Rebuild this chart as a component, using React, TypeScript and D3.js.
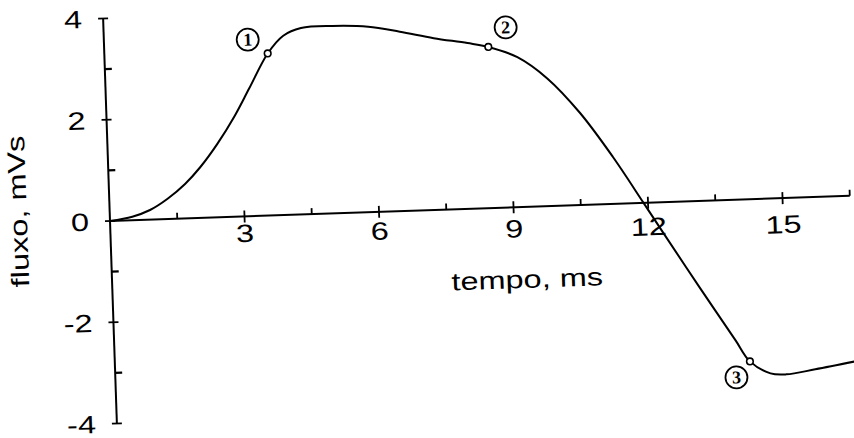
import React from "react";
import * as d3 from "d3";

// Flux curve samples: time (ms) and flux (mV·s)
const timeMs = [0, 0.5, 0.9, 1.3, 1.7, 2.05, 2.45, 2.85, 3.2, 3.64, 4.0, 4.4, 5.1, 5.9, 6.6, 7.35, 8.1, 8.56, 9.2, 9.85, 10.55, 11.25, 11.9, 12.3, 12.8, 13.4, 13.85, 14.15, 14.6, 14.95, 15.6, 16.5];
const fluxMVs = [0, 0.07, 0.19, 0.4, 0.68, 1.0, 1.45, 1.98, 2.52, 3.2, 3.54, 3.68, 3.7, 3.66, 3.54, 3.39, 3.27, 3.18, 2.96, 2.52, 1.82, 0.93, 0, -0.58, -1.3, -2.15, -2.78, -3.2, -3.45, -3.48, -3.4, -3.27];

// Numbered points on the curve
const markerTime = [3.64, 8.56, 14.15];
const markerFlux = [3.2, 3.18, -3.2];
const markerLabels = ["1", "2", "3"];

// Axis ticks
const xMajorTicks = [3, 6, 9, 12, 15];
const xMinorTicks = [1.5, 4.5, 7.5, 10.5, 13.5, 16.5];
const yMajorTicks = [-4, -2, 0, 2, 4];
const yMinorTicks = [-3, -1, 1, 3];

const W = 854;
const H = 438;
const origin = { x: 110, y: 221 };
const tilt = -1.95;
const font = "'Liberation Sans', Arial, Helvetica, sans-serif";
const stretch = 1.3;

export default function App() {
  const x = d3.scaleLinear().domain([0, 16.5]).range([0, 740.2]);
  const y = d3.scaleLinear().domain([-4, 4]).range([202.6, -202.6]);

  const pts: [number, number][] = timeMs.map((t, i) => [t, fluxMVs[i]]);
  const line = d3
    .line<[number, number]>()
    .x((d) => x(d[0]))
    .y((d) => y(d[1]))
    .curve(d3.curveCatmullRom.alpha(0.5));

  // circled-number offsets from their points
  const labelDx = [-19.5, 18, -14];
  const labelDy = [-14.5, -19, 15.5];

  return (
    <svg
      width={W}
      height={H}
      style={{ position: "absolute", left: 0, top: 0, background: "#fff" }}
    >
      <g transform={`translate(${origin.x},${origin.y}) rotate(${tilt})`}>
        {/* axes */}
        <line x1={x(0)} x2={x(16.5)} y1={y(0)} y2={y(0)} stroke="#000" strokeWidth={2} />
        <line x1={x(0)} x2={x(0)} y1={y(-4)} y2={y(4)} stroke="#000" strokeWidth={2} />

        {xMajorTicks.map((t) => (
          <g key={`xm${t}`}>
            <line x1={x(t)} x2={x(t)} y1={y(0) - 6} y2={y(0) + 6} stroke="#000" strokeWidth={1.8} />
            <text
              transform={`translate(${x(t)},${y(0) + 23.3 + 0.0173 * x(t)}) scale(${stretch},1)`}
              textAnchor="middle"
              fontFamily={font}
              fontSize={25}
              fill="#000"
            >
              {t}
            </text>
          </g>
        ))}
        {xMinorTicks.map((t) => (
          <line key={`xn${t}`} x1={x(t)} x2={x(t)} y1={y(0) - 6} y2={y(0)} stroke="#000" strokeWidth={1.8} />
        ))}

        {yMajorTicks.map((v) => (
          <g key={`ym${v}`}>
            <line x1={-5} x2={5} y1={y(v)} y2={y(v)} stroke="#000" strokeWidth={1.8} />
            <text
              transform={`translate(-21,${y(v) + 9}) scale(${stretch},1)`}
              textAnchor="end"
              fontFamily={font}
              fontSize={25}
              fill="#000"
            >
              {v}
            </text>
          </g>
        ))}
        {yMinorTicks.map((v) => (
          <line key={`yn${v}`} x1={0} x2={7} y1={y(v)} y2={y(v)} stroke="#000" strokeWidth={2.2} />
        ))}

        {/* axis titles */}
        <text
          transform={`translate(${x(9.25)},${y(0) + 81}) scale(${stretch},1)`}
          textAnchor="middle"
          fontFamily={font}
          fontSize={25}
          fill="#000"
        >
          tempo, ms
        </text>
        <text
          transform={`translate(-83,${y(0.25)}) rotate(-90) scale(${stretch},1)`}
          textAnchor="middle"
          fontFamily={font}
          fontSize={25}
          fill="#000"
        >
          fluxo, mVs
        </text>

        {/* flux curve */}
        <path d={line(pts) ?? ""} fill="none" stroke="#000" strokeWidth={2} />

        {/* numbered points */}
        {markerTime.map((t, i) => (
          <g key={`mk${i}`}>
            <circle cx={x(t)} cy={y(markerFlux[i])} r={3.3} fill="#fff" stroke="#000" strokeWidth={1.6} />
            <circle
              cx={x(t) + labelDx[i]}
              cy={y(markerFlux[i]) + labelDy[i]}
              r={11}
              fill="#fff"
              stroke="#000"
              strokeWidth={1.8}
            />
            <text
              x={x(t) + labelDx[i]}
              y={y(markerFlux[i]) + labelDy[i] + 6}
              textAnchor="middle"
              fontFamily="'Liberation Serif', 'DejaVu Serif', serif"
              fontWeight="bold"
              fontSize={18}
              fill="#000"
            >
              {markerLabels[i]}
            </text>
          </g>
        ))}
      </g>
    </svg>
  );
}
